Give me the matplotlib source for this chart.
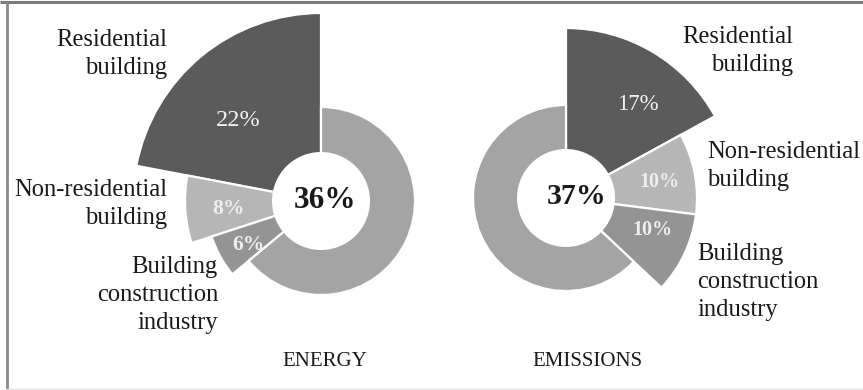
import matplotlib
matplotlib.use("Agg")
import matplotlib.pyplot as plt
from matplotlib.patches import Circle

# ---- data ----
categories = ["Residential\nbuilding", "Non-residential\nbuilding", "Building\nconstruction\nindustry", "Other"]
energy_values = [22, 8, 6, 64]
emission_values = [17, 10, 10, 63]
energy_total = "36%"
emission_total = "37%"
chart_titles = ["ENERGY", "EMISSIONS"]

# ---- styling / layout ----
W, H = 863, 390
def Y(y):
    return H - y

colors = ["#5b5b5b", "#b6b6b6", "#949494", "#a4a4a4"]
serif = ["Liberation Serif", "DejaVu Serif"]

fig = plt.figure(figsize=(W / 100, H / 100), dpi=100)
ax = fig.add_axes([0, 0, 1, 1])

def donut(values, center, radii, counterclock):
    wedges, _ = ax.pie(values, colors=colors, startangle=90, counterclock=counterclock,
                       center=center, radius=radii[-1],
                       wedgeprops=dict(edgecolor="white", linewidth=1.6))
    for w, r in zip(wedges, radii):
        w.set_radius(r)
    return wedges

# left (energy)
cL = (321, Y(201))
donut(energy_values, cL, [188, 136, 115, 94], True)
ax.add_patch(Circle(cL, 49, facecolor="white", edgecolor="none", zorder=5))
# right (emissions)
cR = (566, Y(198))
donut(emission_values, cR, [170, 131, 131, 93], False)
ax.add_patch(Circle(cR, 49, facecolor="white", edgecolor="none", zorder=5))

ax.set_xlim(0, W)
ax.set_ylim(0, H)
ax.set_aspect("equal")
ax.axis("off")

lab = dict(family=serif, fontsize=17.7, color="#1a1a1a", linespacing=1.38, zorder=6)

# left labels
ax.text(167, Y(54), categories[0], ha="right", va="center", multialignment="right", **lab)
ax.text(167, Y(204), categories[1], ha="right", va="center", multialignment="right", **lab)
ax.text(218, Y(295), categories[2], ha="right", va="center", multialignment="right", **lab)
# right labels
ax.text(793, Y(51), categories[0], ha="right", va="center", multialignment="right", **lab)
ax.text(707, Y(166), categories[1], ha="left", va="center", multialignment="left", **lab)
ax.text(697, Y(282), categories[2], ha="left", va="center", multialignment="left", **lab)

# percentages in wedges
ax.text(238, Y(120), f"{energy_values[0]}%", family=serif, fontsize=17.5, color="#f2f2f2",
        ha="center", va="center", zorder=6)
ax.text(228, Y(209), f"{energy_values[1]}%", family=serif, fontsize=15.5, fontweight="bold",
        color="#eeeeee", ha="center", va="center", zorder=6)
ax.text(248, Y(245), f"{energy_values[2]}%", family=serif, fontsize=15.5, fontweight="bold",
        color="#eeeeee", ha="center", va="center", zorder=6)
ax.text(638, Y(105), f"{emission_values[0]}%", family=serif, fontsize=16.5, color="#f2f2f2",
        ha="center", va="center", zorder=6)
ax.text(659, Y(182), f"{emission_values[1]}%", family=serif, fontsize=14.5, fontweight="bold",
        color="#eeeeee", ha="center", va="center", zorder=6)
ax.text(652, Y(230), f"{emission_values[2]}%", family=serif, fontsize=14.5, fontweight="bold",
        color="#eeeeee", ha="center", va="center", zorder=6)

# totals
ax.text(325, Y(200), energy_total, family=serif, fontsize=22.5, fontweight="bold",
        color="#1a1a1a", ha="center", va="center", zorder=6)
ax.text(577, Y(196), emission_total, family=serif, fontsize=21.5, fontweight="bold",
        color="#1a1a1a", ha="center", va="center", zorder=6)

# titles
ax.text(325, Y(361), chart_titles[0], family=serif, fontsize=15, color="#1a1a1a",
        ha="center", va="center", zorder=6)
ax.text(587, Y(361), chart_titles[1], family=serif, fontsize=15, color="#1a1a1a",
        ha="center", va="center", zorder=6)

# frame lines
ax.plot([0, W], [Y(1.5), Y(1.5)], color="#7a7a7a", linewidth=2.2, solid_capstyle="butt")
ax.plot([6.5, 6.5], [Y(2), Y(390)], color="#8a8a8a", linewidth=2.0, solid_capstyle="butt")
ax.plot([6, W], [Y(388.5), Y(388.5)], color="#e4e4e4", linewidth=1.0)

fig.savefig("out.png", dpi=100, facecolor="white")
